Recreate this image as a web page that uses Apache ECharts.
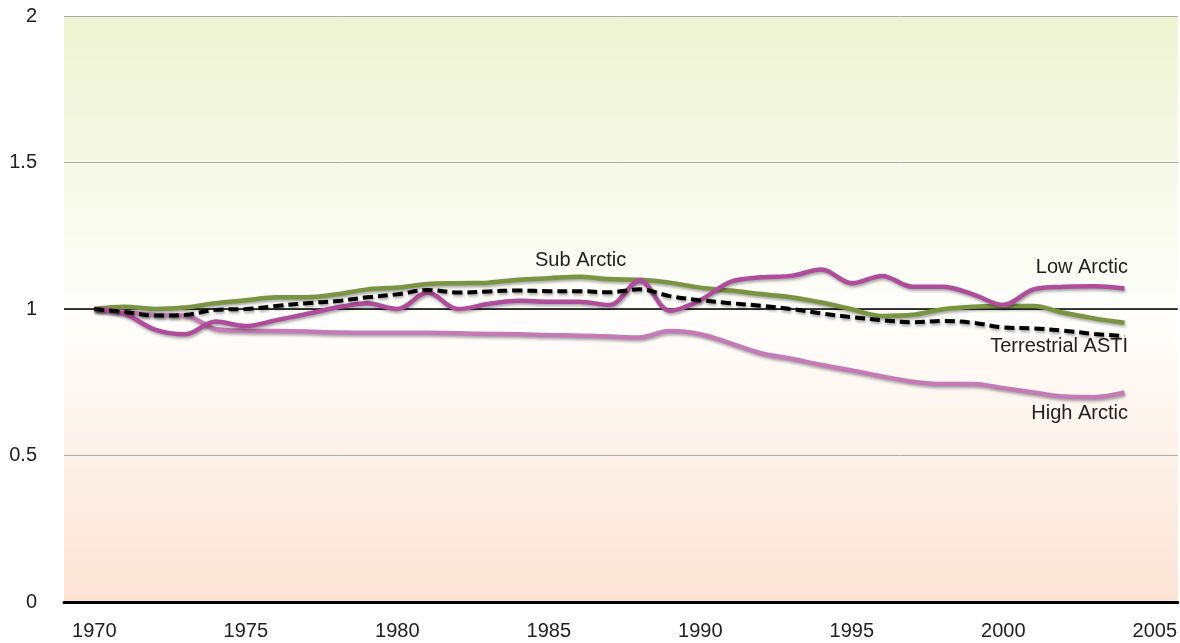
<!DOCTYPE html>
<html>
<head>
<meta charset="utf-8">
<script src="https://cdn.jsdelivr.net/npm/echarts@6/dist/echarts.min.js"></script>
<style>
  html, body { margin: 0; padding: 0; background: #fff; }
  #chart { width: 1180px; height: 643px; }
</style>
</head>
<body>
<div id="chart"></div>
<script>
// years 1970 - 2004
const years = [];
for (let y = 1970; y <= 2004; y++) years.push(y);

const subArctic = [1.0, 1.008, 1.0, 1.005, 1.02, 1.03, 1.04, 1.04, 1.05, 1.067, 1.073, 1.085,
  1.088, 1.09, 1.1, 1.105, 1.11, 1.102, 1.1, 1.09, 1.073, 1.063, 1.051, 1.04,
  1.022, 0.999, 0.976, 0.98, 0.999, 1.008, 1.01, 1.01, 0.987, 0.968, 0.953];
const lowArctic = [1.0, 0.983, 0.93, 0.914, 0.957, 0.942, 0.962, 0.983, 1.005, 1.02, 1.0, 1.056,
  1.0, 1.017, 1.028, 1.025, 1.025, 1.014, 1.097, 0.994, 1.03, 1.093, 1.108, 1.113,
  1.135, 1.088, 1.113, 1.076, 1.076, 1.05, 1.014, 1.067, 1.076, 1.078, 1.07];
const highArctic = [1.0, 0.99, 0.98, 0.978, 0.932, 0.926, 0.925, 0.923, 0.92, 0.919, 0.919, 0.919,
  0.917, 0.915, 0.914, 0.911, 0.909, 0.906, 0.903, 0.925, 0.914, 0.883, 0.849, 0.83,
  0.809, 0.79, 0.77, 0.752, 0.744, 0.744, 0.73, 0.715, 0.701, 0.699, 0.715];
const asti = [1.0, 0.99, 0.978, 0.98, 0.997, 1.0, 1.01, 1.02, 1.027, 1.04, 1.05, 1.065,
  1.056, 1.06, 1.063, 1.061, 1.061, 1.057, 1.067, 1.044, 1.03, 1.02, 1.011, 1.0,
  0.985, 0.972, 0.962, 0.955, 0.959, 0.953, 0.937, 0.934, 0.926, 0.915, 0.908];

const xTicks = [1970, 1975, 1980, 1985, 1990, 1995, 2000, 2005];

const FONT = "'Liberation Sans', Arial, sans-serif";

function pairs(vals) {
  return vals.map((v, i) => [years[i], v]);
}

const shadow = {
  shadowColor: "rgba(0,0,0,0.35)",
  shadowBlur: 3,
  shadowOffsetX: 1,
  shadowOffsetY: 2,
};

const chart = echarts.init(document.getElementById("chart"));
chart.setOption({
  animation: false,
  grid: {
    left: 64,
    right: 0,
    top: 16,
    bottom: 41,
    show: true,
    borderWidth: 0,
    backgroundColor: new echarts.graphic.LinearGradient(0, 0, 0, 1, [
      { offset: 0, color: "#eef3d2" },
      { offset: 0.5, color: "#fefefb" },
      { offset: 0.53, color: "#fffdfb" },
      { offset: 1, color: "#fbe3d4" },
    ]),
  },
  xAxis: {
    type: "value",
    min: 1969,
    max: 2005.76,
    axisLine: { show: true, lineStyle: { color: "#000", width: 3 } },
    axisTick: { show: false },
    splitLine: { show: false },
    axisLabel: {
      customValues: xTicks,
      color: "#222",
      fontSize: 20,
      fontFamily: FONT,
      margin: 19,
      formatter: (v) => String(v),
    },
  },
  yAxis: {
    type: "value",
    min: 0,
    max: 2,
    interval: 0.5,
    axisLine: { show: false },
    axisTick: { show: false },
    splitLine: { show: true, lineStyle: { color: "#aaaaaa", width: 1 } },
    axisLabel: { color: "#222", fontSize: 20, fontFamily: FONT, margin: 27 },
  },
  series: [
    {
      name: "Sub Arctic",
      type: "line",
      data: pairs(subArctic),
      smooth: 0.35,
      symbol: "none",
      lineStyle: Object.assign({ color: "#7b9441", width: 4.5 }, shadow),
      markLine: {
        silent: true,
        symbol: "none",
        label: { show: false },
        lineStyle: { color: "#000", width: 1.5, type: "solid" },
        data: [{ yAxis: 1 }],
        z: 1,
      },
    },
    {
      name: "High Arctic",
      type: "line",
      data: pairs(highArctic),
      smooth: 0.35,
      symbol: "none",
      lineStyle: Object.assign({ color: "#c47ab6", width: 4.5 }, shadow),
    },
    {
      name: "Low Arctic",
      type: "line",
      data: pairs(lowArctic),
      smooth: 0.35,
      symbol: "none",
      lineStyle: Object.assign({ color: "#b04c9c", width: 4.5 }, shadow),
    },
    {
      name: "Terrestrial ASTI",
      type: "line",
      data: pairs(asti),
      smooth: 0.35,
      symbol: "none",
      lineStyle: Object.assign({ color: "#000", width: 4, type: [10, 5] }, shadow),
    },
  ],
  graphic: [
    { type: "text", left: 535, top: 250, style: { text: "Sub Arctic", fill: "#222", font: "20px " + FONT } },
    { type: "text", right: 52, top: 257, style: { text: "Low Arctic", fill: "#222", font: "20px " + FONT } },
    { type: "text", right: 52, top: 336, style: { text: "Terrestrial ASTI", fill: "#222", font: "20px " + FONT } },
    { type: "text", right: 52, top: 403, style: { text: "High Arctic", fill: "#222", font: "20px " + FONT } },
  ],
});
</script>
</body>
</html>
